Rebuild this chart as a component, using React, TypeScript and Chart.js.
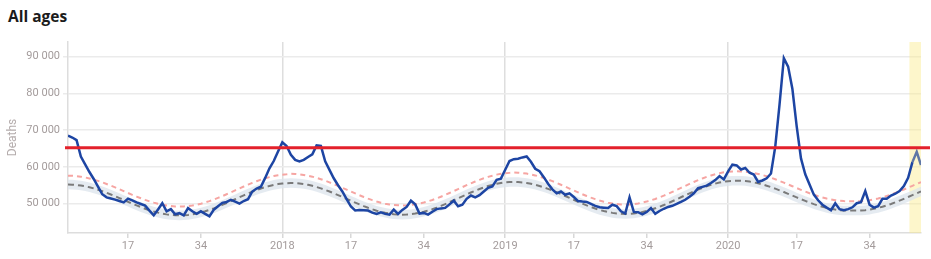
import React, { useEffect, useRef } from "react";
import { Chart, registerables } from "chart.js";

Chart.register(...registerables);

// ---- categories (ISO weeks, 2017-W03 .. 2020-W46) ----
const firstYear = 2017;
const firstWeek = 3;
const weeksInYear: Record<number, number> = { 2017: 52, 2018: 52, 2019: 52, 2020: 53 };
const weekCount = 200;
const labeledWeeks = [1, 17, 34];

const weekLabels: string[] = [];
{
  let y = firstYear;
  let w = firstWeek;
  while (weekLabels.length < weekCount) {
    weekLabels.push(`${y}-W${String(w).padStart(2, "0")}`);
    w++;
    if (w > weeksInYear[y]) { w = 1; y++; }
  }
}

const yTickValues = [50000, 60000, 70000, 80000, 90000];

// ---- series ----
const deaths = [
  68500, 68000, 67300, 62800, 60700, 58600, 56700, 54600, 52550, 51700,
  51400, 51100, 50700, 50350, 51350, 50900, 50350, 49900, 49450, 48100,
  46800, 48400, 50100, 47900, 48500, 47100, 47400, 46800, 48800, 47900,
  47200, 47900, 47200, 46550, 48300, 49300, 50200, 50450, 51050, 50550,
  50000, 50700, 51200, 53300, 54100, 54600, 57000, 59600, 61600, 64200,
  66700, 65700, 63300, 61900, 61500, 61900, 62700, 63400, 65850, 65700,
  61500, 59200, 56900, 55000, 53300, 51200, 49200, 48150, 48250, 48200,
  48100, 47550, 47200, 47650, 47200, 47000, 48370, 47200, 48300, 49100,
  50800, 49800, 47300, 47470, 47010, 47800, 48500, 48700, 48830, 49800,
  50800, 49270, 49700, 51300, 52200, 51700, 52300, 53300, 54300, 54700,
  56500, 56800, 59200, 61600, 62100, 62230, 62580, 62850, 61400, 59500,
  58800, 57200, 55400, 53900, 52800, 53300, 52400, 52800, 51800, 50700,
  50550, 50450, 49920, 49400, 49000, 48900, 48800, 49700, 49300, 47900,
  47300, 51700, 47750, 47650, 47050, 47700, 48800, 47200, 48000, 48600,
  49100, 49400, 49900, 50450, 51050, 51900, 52800, 54200, 54550, 54900,
  55600, 56400, 57500, 56600, 58800, 60600, 60400, 59300, 59700, 58400,
  57900, 55900, 56300, 56900, 58200, 65500, 77000, 89600, 87300, 81200,
  71000, 62300, 58000, 55200, 52450, 50900, 49700, 48900, 48200, 50100,
  48500, 48200, 48500, 49000, 50100, 50400, 53400, 49700, 48900, 49300,
  51300, 51300, 52200, 52700, 53400, 54800, 57000, 61300, 64100, 60500,
];

const baseline = [
  55200, 55170, 55080, 54930, 54720, 54460, 54140, 53790, 53390, 52950, 52490, 52010, 51510, 51000, 50490, 50000, 49510, 49050, 48610, 48210, 47860, 47540, 47280, 47070, 46920, 46830, 46800,
  46830, 46930, 47090, 47300, 47580, 47910, 48280, 48700, 49160, 49640, 50150, 50670, 51200, 51730, 52250, 52760, 53240, 53700, 54120, 54490, 54820, 55100, 55310, 55470, 55570, 55600,
  55570, 55480, 55320, 55110, 54840, 54520, 54150, 53740, 53300, 52820, 52330, 51820, 51300, 50780, 50270, 49780, 49300, 48860, 48450, 48080, 47760, 47490, 47280, 47120, 47030, 47000,
  47030, 47130, 47290, 47510, 47790, 48120, 48500, 48920, 49380, 49870, 50380, 50910, 51450, 51990, 52520, 53030, 53520, 53980, 54400, 54780, 55110, 55390, 55610, 55770, 55870, 55900,
  55870, 55770, 55620, 55400, 55130, 54810, 54440, 54020, 53570, 53090, 52590, 52080, 51550, 51030, 50510, 50010, 49530, 49080, 48670, 48290, 47970, 47700, 47480, 47330, 47230, 47200,
  47230, 47330, 47490, 47720, 48000, 48340, 48720, 49160, 49620, 50120, 50640, 51180, 51730, 52270, 52810, 53330, 53830, 54300, 54730, 55110, 55450, 55730, 55960, 56120, 56220, 56250,
  56220, 56130, 55990, 55780, 55530, 55230, 54880, 54490, 54070, 53620, 53150, 52670, 52180, 51680, 51200, 50730, 50280, 49860, 49470, 49120, 48820, 48570, 48370, 48220, 48130, 48100, 48100,
  48100, 48130, 48220, 48370, 48580, 48840, 49160, 49520, 49910, 50350, 50810, 51300, 51790, 52300, 52810, 53310,
];

const substantialIncrease = [
  57600, 57570, 57480, 57330, 57120, 56860, 56540, 56190, 55790, 55350, 54890, 54410, 53910, 53400, 52890, 52400, 51910, 51450, 51010, 50610, 50260, 49940, 49680, 49470, 49320, 49230, 49200,
  49230, 49330, 49490, 49700, 49980, 50310, 50680, 51100, 51560, 52040, 52550, 53070, 53600, 54130, 54650, 55160, 55640, 56100, 56520, 56890, 57220, 57500, 57710, 57870, 57970, 58100,
  58070, 57980, 57820, 57610, 57340, 57020, 56650, 56240, 55800, 55320, 54830, 54320, 53800, 53280, 52770, 52280, 51800, 51360, 50950, 50580, 50260, 49990, 49780, 49620, 49530, 49500,
  49530, 49630, 49790, 50010, 50290, 50620, 51000, 51420, 51880, 52370, 52880, 53410, 53950, 54490, 55020, 55530, 56020, 56480, 56900, 57280, 57610, 57890, 58110, 58270, 58370, 58450,
  58420, 58320, 58170, 57950, 57680, 57360, 56990, 56570, 56120, 55640, 55140, 54630, 54100, 53580, 53060, 52560, 52080, 51630, 51220, 50840, 50520, 50250, 50030, 49880, 49780, 49750,
  49780, 49880, 50040, 50270, 50550, 50890, 51270, 51710, 52170, 52670, 53190, 53730, 54280, 54820, 55360, 55880, 56380, 56850, 57280, 57660, 58000, 58280, 58510, 58670, 58770, 58800,
  58770, 58680, 58540, 58330, 58080, 57780, 57430, 57040, 56620, 56170, 55700, 55220, 54730, 54230, 53750, 53280, 52830, 52410, 52020, 51670, 51370, 51120, 50920, 50770, 50680, 50650, 50650,
  50650, 50680, 50770, 50920, 51130, 51390, 51710, 52070, 52460, 52900, 53360, 53850, 54340, 54850, 55360, 55860,
];

const normalHigh = [
  56500, 56470, 56380, 56230, 56020, 55760, 55440, 55090, 54690, 54250, 53790, 53310, 52810, 52300, 51790, 51300, 50810, 50350, 49910, 49510, 49160, 48840, 48580, 48370, 48220, 48130, 48100,
  48130, 48230, 48390, 48600, 48880, 49210, 49580, 50000, 50460, 50940, 51450, 51970, 52500, 53030, 53550, 54060, 54540, 55000, 55420, 55790, 56120, 56400, 56610, 56770, 56870, 56900,
  56870, 56780, 56620, 56410, 56140, 55820, 55450, 55040, 54600, 54120, 53630, 53120, 52600, 52080, 51570, 51080, 50600, 50160, 49750, 49380, 49060, 48790, 48580, 48420, 48330, 48300,
  48330, 48430, 48590, 48810, 49090, 49420, 49800, 50220, 50680, 51170, 51680, 52210, 52750, 53290, 53820, 54330, 54820, 55280, 55700, 56080, 56410, 56690, 56910, 57070, 57170, 57200,
  57170, 57070, 56920, 56700, 56430, 56110, 55740, 55320, 54870, 54390, 53890, 53380, 52850, 52330, 51810, 51310, 50830, 50380, 49970, 49590, 49270, 49000, 48780, 48630, 48530, 48500,
  48530, 48630, 48790, 49020, 49300, 49640, 50020, 50460, 50920, 51420, 51940, 52480, 53030, 53570, 54110, 54630, 55130, 55600, 56030, 56410, 56750, 57030, 57260, 57420, 57520, 57550,
  57520, 57430, 57290, 57080, 56830, 56530, 56180, 55790, 55370, 54920, 54450, 53970, 53480, 52980, 52500, 52030, 51580, 51160, 50770, 50420, 50120, 49870, 49670, 49520, 49430, 49400, 49400,
  49400, 49430, 49520, 49670, 49880, 50140, 50460, 50820, 51210, 51650, 52110, 52600, 53090, 53600, 54110, 54610,
];

const normalLow = [
  53900, 53870, 53780, 53630, 53420, 53160, 52840, 52490, 52090, 51650, 51190, 50710, 50210, 49700, 49190, 48700, 48210, 47750, 47310, 46910, 46560, 46240, 45980, 45770, 45620, 45530, 45500,
  45530, 45630, 45790, 46000, 46280, 46610, 46980, 47400, 47860, 48340, 48850, 49370, 49900, 50430, 50950, 51460, 51940, 52400, 52820, 53190, 53520, 53800, 54010, 54170, 54270, 54300,
  54270, 54180, 54020, 53810, 53540, 53220, 52850, 52440, 52000, 51520, 51030, 50520, 50000, 49480, 48970, 48480, 48000, 47560, 47150, 46780, 46460, 46190, 45980, 45820, 45730, 45700,
  45730, 45830, 45990, 46210, 46490, 46820, 47200, 47620, 48080, 48570, 49080, 49610, 50150, 50690, 51220, 51730, 52220, 52680, 53100, 53480, 53810, 54090, 54310, 54470, 54570, 54600,
  54570, 54470, 54320, 54100, 53830, 53510, 53140, 52720, 52270, 51790, 51290, 50780, 50250, 49730, 49210, 48710, 48230, 47780, 47370, 46990, 46670, 46400, 46180, 46030, 45930, 45900,
  45930, 46030, 46190, 46420, 46700, 47040, 47420, 47860, 48320, 48820, 49340, 49880, 50430, 50970, 51510, 52030, 52530, 53000, 53430, 53810, 54150, 54430, 54660, 54820, 54920, 54950,
  54920, 54830, 54690, 54480, 54230, 53930, 53580, 53190, 52770, 52320, 51850, 51370, 50880, 50380, 49900, 49430, 48980, 48560, 48170, 47820, 47520, 47270, 47070, 46920, 46830, 46800, 46800,
  46800, 46830, 46920, 47070, 47280, 47540, 47860, 48220, 48610, 49050, 49510, 50000, 50490, 51000, 51510, 52010,
];

const alertThreshold = 65200;
const provisionalFrom = 196.3; // start of the highlighted (provisional) weeks

const fmt = (v: number) => String(v).replace(/\B(?=(\d{3})+(?!\d))/g, " ");

const overlays = {
  id: "overlays",
  beforeDatasetsDraw(chart: any) {
    const { ctx, chartArea, scales } = chart;
    const x0 = scales.x.getPixelForValue(provisionalFrom);
    ctx.save();
    ctx.fillStyle = "rgba(251, 236, 140, 0.45)";
    ctx.fillRect(x0, chartArea.top, chartArea.right - x0, chartArea.bottom - chartArea.top);
    ctx.restore();
  },
  afterDatasetsDraw(chart: any) {
    const { ctx, chartArea, scales } = chart;
    const y = scales.y.getPixelForValue(alertThreshold);
    ctx.save();
    ctx.strokeStyle = "#e3212b";
    ctx.lineWidth = 3;
    ctx.beginPath();
    ctx.moveTo(chartArea.left - 3, y);
    ctx.lineTo(chart.width - 1, y);
    ctx.stroke();
    ctx.restore();
  },
};

export default function App() {
  const ref = useRef<HTMLCanvasElement | null>(null);

  useEffect(() => {
    if (!ref.current) return;
    const tickIdx = weekLabels
      .map((l, i) => ({ w: parseInt(l.split("-W")[1], 10), i }))
      .filter((o) => labeledWeeks.includes(o.w))
      .map((o) => o.i);

    const chart = new Chart(ref.current, {
      type: "line",
      data: {
        labels: weekLabels,
        datasets: [
          { data: normalLow, borderWidth: 0, pointRadius: 0, fill: false, order: 5 },
          {
            data: normalHigh, borderWidth: 0, pointRadius: 0, fill: "-1",
            backgroundColor: "rgba(220, 228, 236, 0.75)", order: 5,
          },
          {
            data: baseline, borderColor: "#7a7a7a", borderWidth: 2, borderDash: [6, 4],
            pointRadius: 0, fill: false, order: 3,
          },
          {
            data: substantialIncrease, borderColor: "#f6a5a2", borderWidth: 2, borderDash: [5, 4],
            pointRadius: 0, fill: false, order: 2,
          },
          {
            data: deaths, borderColor: "#1d45a3", borderWidth: 2.5, pointRadius: 0, fill: false,
            tension: 0, order: 1,
            segment: {
              borderColor: (c: any) => (c.p0DataIndex >= 197 ? "#5f77a6" : undefined),
            },
          },
        ],
      },
      options: {
        responsive: false,
        animation: false,
        devicePixelRatio: 1,
        layout: { padding: { top: 42, right: 10, left: 0, bottom: 0 } },
        plugins: { legend: { display: false }, tooltip: { enabled: false } },
        scales: {
          x: {
            type: "category",
            min: 0,
            max: weekCount - 1,
            offset: false,
            afterBuildTicks: (s: any) => { s.ticks = tickIdx.map((v) => ({ value: v })); },
            afterFit: (s: any) => { s.height = 26; },
            ticks: {
              autoSkip: false,
              maxRotation: 0,
              padding: 2,
              color: "#a39b9b",
              font: { family: "Roboto", size: 11 },
              callback: (v: any) => {
                const [yr, wk] = weekLabels[v].split("-W");
                return parseInt(wk, 10) === 1 ? yr : String(parseInt(wk, 10));
              },
            },
            grid: {
              color: (c: any) => {
                const v = c.tick ? c.tick.value : -1;
                const l = weekLabels[v];
                return l && l.endsWith("-W01") ? "#dedede" : "rgba(0,0,0,0)";
              },
              tickColor: "#d8d8d8",
              lineWidth: 1.5,
              tickLength: 5,
            },
            border: { color: "#dddddd", width: 1.5 },
          },
          y: {
            min: 42000,
            max: 94000,
            afterBuildTicks: (s: any) => { s.ticks = yTickValues.map((v) => ({ value: v })); },
            afterFit: (s: any) => { s.width = 68; },
            ticks: {
              padding: 3,
              color: "#a39b9b",
              font: { family: "Roboto", size: 11 },
              callback: (v: any) => fmt(Number(v)),
            },
            grid: { color: "#ebebeb", lineWidth: 1.5, tickLength: 5 },
            border: { color: "#dddddd", width: 1.5 },
            title: {
              display: true,
              text: "Deaths",
              color: "#b5adad",
              font: { family: "Roboto", size: 12 },
              padding: { top: 6, bottom: 0 },
            },
          },
        },
      },
      plugins: [overlays],
    } as any);
    return () => chart.destroy();
  }, []);

  return (
    <div style={{ position: "absolute", left: 0, top: 0, width: 931, height: 259, background: "#fff" }}>
      <div
        style={{
          position: "absolute", left: 8, top: 6, fontFamily: "'Open Sans', sans-serif",
          fontWeight: 700, fontSize: 15.5, lineHeight: "20px", color: "#1b1b1b",
        }}
      >
        All ages
      </div>
      <canvas ref={ref} width={931} height={259} style={{ position: "absolute", left: 0, top: 0 }} />
    </div>
  );
}
